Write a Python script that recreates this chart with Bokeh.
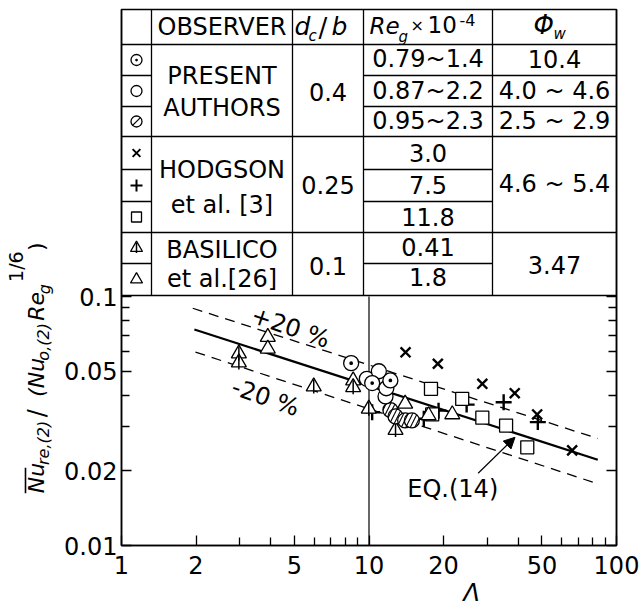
import math
from bokeh.plotting import figure
from bokeh.layouts import row
from bokeh.models import (Range1d, LinearScale, FixedTicker, LogAxis,
                          CustomJSTickFormatter, Arrow, NormalHead, Title)
from bokeh.core.properties import value
from bokeh.embed import file_html
from bokeh.resources import INLINE

# ---------------- data ----------------
# Present authors, d_c/b = 0.4
dot_lam = [8.47, 10.3, 12.2]                    # Re_g 0.79~1.4 (circle with dot)
dot_nu = [0.0540, 0.0449, 0.0460]
open_lam = [9.8, 10.96, 11.66, 11.75]            # Re_g 0.87~2.2 (open circle)
open_nu = [0.0467, 0.0501, 0.0397, 0.0428]
hatch_lam = [12.2, 12.8, 14.0, 14.9]             # Re_g 0.95~2.3 (hatched circle)
hatch_nu = [0.0350, 0.0330, 0.0318, 0.0318]
# Hodgson et al. [3], d_c/b = 0.25
x_lam = [14.05, 18.97, 28.7, 38.8, 47.8, 66.2]   # Re_g 3.0
x_nu = [0.0597, 0.0537, 0.0446, 0.0409, 0.0336, 0.0241]
plus_lam = [10.3, 16.65, 19.1, 24.8, 35.0, 48.1]  # Re_g 7.5
plus_nu = [0.0343, 0.0323, 0.0348, 0.0368, 0.0376, 0.0313]
sq_lam = [17.8, 18.0, 23.8, 28.7, 35.8, 43.6]    # Re_g 11.8
sq_nu = [0.0426, 0.0336, 0.0388, 0.0326, 0.0303, 0.0248]
# Basilico et al. [26], d_c/b = 0.1
bartri_lam = [2.98, 2.98, 5.98, 8.63, 9.98, 12.8]   # Re_g 0.41
bartri_nu = [0.0590, 0.0543, 0.0435, 0.0432, 0.0354, 0.0291]
tri_lam = [3.9, 3.9, 8.63, 14.0, 17.4, 21.7]        # Re_g 1.8
tri_nu = [0.0687, 0.0617, 0.0460, 0.0371, 0.0333, 0.0336]

# EQ.(14) and +-20 % bands (end points)
eq_lam = [1.97, 84.0]
eq_nu = [0.0737, 0.0221]
up_lam = [1.94, 84.0]
up_nu = [0.0897, 0.0269]
lo_lam = [1.99, 84.0]
lo_nu = [0.0598, 0.0177]
ref_lam = [10, 10]
ref_nu = [0.01, 0.1]
arrow_from = (27.6, 0.0195)
arrow_to = (38.9, 0.0272)

x_ticks = [1, 2, 5, 10, 20, 50, 100]
x_minor = [3, 4, 6, 7, 8, 9, 30, 40, 60, 70, 80, 90]
y_ticks = [0.01, 0.02, 0.05, 0.1]
y_minor = [0.03, 0.04, 0.06, 0.07, 0.08, 0.09]

# table content
observers = ["PRESENT", "AUTHORS", "HODGSON", "et al. [3]", "BASILICO", "et al.[26]"]
dcb = ["0.4", "0.25", "0.1"]
reg = ["0.79~1.4", "0.87~2.2", "0.95~2.3", "3.0", "7.5", "11.8", "0.41", "1.8"]
phiw = ["10.4", "4.0 ~ 4.6", "2.5 ~ 2.9", "4.6 ~ 5.4", "3.47"]

# ---------------- layout ----------------
FONT = "DejaVu Sans"
YTOP = 0.01 * 10 ** ((545 - 9) / 249.0)
LEFT_W = 58
MAIN_W, MAIN_H = 582, 606
BL, BR = 63, 24

p = figure(width=MAIN_W, height=MAIN_H, x_axis_type="log", y_axis_type="log",
           x_range=Range1d(1, 100), y_range=Range1d(0.01, YTOP),
           output_backend="svg", toolbar_location=None,
           min_border_left=BL, min_border_right=BR,
           min_border_top=9, min_border_bottom=MAIN_H - 9 - 536)
p.extra_x_ranges = {"tbl": Range1d(121, 616)}
p.extra_y_ranges = {"tbl": Range1d(545, 9)}
p.extra_x_scales = {"tbl": LinearScale()}
p.extra_y_scales = {"tbl": LinearScale()}
p.grid.visible = False
p.background_fill_color = "white"
p.border_fill_color = "white"
p.outline_line_color = "black"
p.outline_line_width = 1.5

fmt = CustomJSTickFormatter(code="return tick.toString();")
xa = p.xaxis[0]
xa.ticker = FixedTicker(ticks=x_ticks, minor_ticks=x_minor)
xa.formatter = fmt
ya = p.yaxis[0]
ya.ticker = FixedTicker(ticks=y_ticks, minor_ticks=y_minor)
ya.formatter = fmt
ra = LogAxis(ticker=FixedTicker(ticks=y_ticks, minor_ticks=y_minor),
             formatter=CustomJSTickFormatter(code="return '';"))
p.add_layout(ra, "right")
for ax in (xa, ya, ra):
    ax.axis_line_color = "black"
    ax.axis_line_width = 1.5
    ax.major_tick_in = 10
    ax.major_tick_out = 0
    ax.minor_tick_in = 8
    ax.minor_tick_out = 0
    ax.major_tick_line_color = "black"
    ax.minor_tick_line_color = "black"
    ax.major_tick_line_width = 1.3
    ax.minor_tick_line_width = 1.3
    ax.major_label_text_font = FONT
    ax.major_label_text_font_size = "24px"
    ax.major_label_text_color = "black"
xa.major_label_standoff = 10
ya.major_label_standoff = 4
ra.major_label_text_font_size = "1px"
ra.major_label_standoff = 0

# x-axis title: the reference puts it right of centre
p.add_layout(Title(text="Λ", align="left", offset=342, text_font=FONT,
                   text_font_size="24px", text_font_style="italic",
                   text_color="black", standoff=0), "below")

TBL = dict(x_range_name="tbl", y_range_name="tbl")

# ---------------- table ----------------
col_x = [121, 151, 292, 363, 492, 616]
row_y = [44, 75, 106, 136, 169, 201, 232, 263, 295]
row_c = [(row_y[i] + row_y[i + 1]) / 2 for i in range(len(row_y) - 1)]
x0s, y0s, x1s, y1s = [], [], [], []
for y in (44, 136, 232, 295):
    x0s.append(col_x[0]); x1s.append(col_x[5]); y0s.append(y); y1s.append(y)
for y in (75, 106, 169, 201, 263):
    x0s.append(col_x[0]); x1s.append(col_x[1]); y0s.append(y); y1s.append(y)
for y in (75, 106):
    x0s.append(col_x[3]); x1s.append(col_x[5]); y0s.append(y); y1s.append(y)
for y in (169, 201, 263):
    x0s.append(col_x[3]); x1s.append(col_x[4]); y0s.append(y); y1s.append(y)
for x in col_x[1:5]:
    x0s.append(x); x1s.append(x); y0s.append(9); y1s.append(295)
p.segment(x0s, y0s, x1s, y1s, line_color="black", line_width=1.3, **TBL)


def txt(fig, xs, ys, texts, size, style="normal", align="center", baseline="middle",
        angle=0.0, **kw):
    fig.text(x=xs, y=ys, text=texts, text_font=value(FONT), text_font_size=value(size),
             text_font_style=style, text_align=align, text_baseline=baseline,
             text_color="black", angle=angle, **kw)


# header pieces
txt(p, [221.5], [26], ["OBSERVER"], "24px", **TBL)
txt(p, [294], [26], ["d"], "25px", "italic", "left", **TBL)
txt(p, [308], [35], ["c"], "15px", "italic", "left", **TBL)
txt(p, [318], [27], ["/"], "26px", "normal", "left", **TBL)
txt(p, [331], [26], ["b"], "25px", "italic", "left", **TBL)
txt(p, [369], [25], ["Re"], "23px", "italic", "left", **TBL)
txt(p, [398], [36], ["g"], "15px", "italic", "left", **TBL)
txt(p, [410], [25], ["×"], "16px", "normal", "left", **TBL)
txt(p, [427], [24], ["10"], "23px", "normal", "left", **TBL)
txt(p, [459], [19], ["-4"], "16px", "normal", "left", **TBL)
txt(p, [533], [24], ["Φ"], "26px", "italic", "left", **TBL)
txt(p, [553], [33], ["w"], "15px", "italic", "left", **TBL)

# body
cx_obs = (col_x[1] + col_x[2]) / 2
cx_dcb = (col_x[2] + col_x[3]) / 2
cx_re = (col_x[3] + col_x[4]) / 2
cx_phi = (col_x[4] + col_x[5]) / 2
txt(p, [cx_obs] * 6, [75.5, 107, 169, 204.5, 249.5, 278.5], observers, "24px", **TBL)
txt(p, [cx_dcb] * 3, [91, 184.5, 265], dcb, "24px", **TBL)
txt(p, [cx_re] * 8, [58, 90, 120, 152, 184, 216, 246, 276], reg, "24px", **TBL)
txt(p, [cx_phi] * 5, [58, 90, 120, 183, 264], phiw, "24px", **TBL)

# symbols in the table
sx = (col_x[0] + col_x[1]) / 2
MK = dict(line_color="black", fill_color="white", line_width=1.3)
p.scatter([sx], [row_c[0]], marker="circle_dot", size=11, **MK, **TBL)
p.scatter([sx], [row_c[1]], marker="circle", size=11, **MK, **TBL)
p.scatter([sx], [row_c[2]], marker="circle", size=11, **MK, **TBL)
p.scatter([sx], [row_c[2]], marker="dash", size=11, angle=math.pi / 4, line_color="black", line_width=1.3, **TBL)
p.scatter([sx], [row_c[3]], marker="x", size=11, line_color="black", line_width=2, **TBL)
p.scatter([sx], [row_c[4]], marker="cross", size=12, line_color="black", line_width=2, **TBL)
p.scatter([sx], [row_c[5]], marker="square", size=10, **MK, **TBL)
p.scatter([sx], [row_c[6]], marker="triangle", size=12, **MK, **TBL)
p.scatter([sx], [row_c[6]], marker="dash", size=10, angle=math.pi / 2, line_color="black", line_width=1.5, **TBL)
p.scatter([sx], [row_c[7]], marker="triangle", size=12, **MK, **TBL)

# ---------------- chart ----------------
p.line(ref_lam, ref_nu, line_color="black", line_width=1.2)
p.line(up_lam, up_nu, line_color="black", line_width=1.3, line_dash="10 7")
p.line(lo_lam, lo_nu, line_color="black", line_width=1.3, line_dash="10 7")
p.line(eq_lam, eq_nu, line_color="black", line_width=2.2)

p.scatter(x_lam, x_nu, marker="x", size=14, line_color="black", line_width=2.4)
p.scatter(plus_lam, plus_nu, marker="cross", size=16, line_color="black", line_width=2.4)
p.scatter(sq_lam, sq_nu, marker="square", size=13, **MK)
p.scatter(tri_lam, tri_nu, marker="triangle", size=15, **MK)
p.scatter(bartri_lam, bartri_nu, marker="triangle", size=15, **MK)
p.scatter(bartri_lam, bartri_nu, marker="dash", size=14, angle=math.pi / 2, line_color="black", line_width=1.5)
p.scatter(hatch_lam, hatch_nu, marker="circle", size=15, line_color="black", fill_color="white",
          line_width=1.3, hatch_pattern="right_diagonal_line", hatch_color="black",
          hatch_scale=9, hatch_weight=1.1)
p.scatter(open_lam, open_nu, marker="circle", size=15, **MK)
p.scatter(dot_lam, dot_nu, marker="circle_dot", size=15, **MK)

# band / equation labels
ang = -0.33
txt(p, [4.82], [0.0751], ["+20 %"], "24px", angle=ang)
txt(p, [3.82], [0.0393], ["-20 %"], "24px", angle=ang)
txt(p, [21.8], [0.0169], ["EQ.(14)"], "24px")
p.add_layout(Arrow(end=NormalHead(size=11, fill_color="black", line_color="black"),
                   x_start=arrow_from[0], y_start=arrow_from[1],
                   x_end=arrow_to[0], y_end=arrow_to[1], line_width=1.2, line_color="black"))

# ---------------- y-axis title (left strip) ----------------
yl = figure(width=LEFT_W, height=MAIN_H, x_range=Range1d(0, LEFT_W),
            y_range=Range1d(MAIN_H, 0), output_backend="svg",
            toolbar_location=None, x_axis_location=None, y_axis_location=None,
            min_border=0, min_border_left=0, min_border_right=0,
            min_border_top=0, min_border_bottom=0)
yl.grid.visible = False
yl.outline_line_color = None
yl.border_fill_color = "white"
yl.background_fill_color = "white"
yl.segment([25], [518], [25], [547], line_color="black", line_width=1.6)
ylab = [
    ("Nu", 35.5, 547, "22px", "italic"),
    ("re,(2)", 43, 515, "16px", "italic"),
    ("/", 36, 461, "24px", "normal"),
    ("(Nu", 36, 438, "22px", "italic"),
    ("o,(2)", 43, 397, "16px", "italic"),
    ("Re", 35.5, 352, "22px", "italic"),
    ("g", 44, 322, "16px", "italic"),
    ("1/6", 15, 308, "19px", "normal"),
    (")", 36, 273, "22px", "normal"),
]
for t, xx, yy, sz, st in ylab:
    txt(yl, [xx], [yy], [t], sz, st, "left", "middle", angle=math.pi / 2)

layout = row(yl, p)
open("out.html", "w").write(file_html(layout, INLINE))
